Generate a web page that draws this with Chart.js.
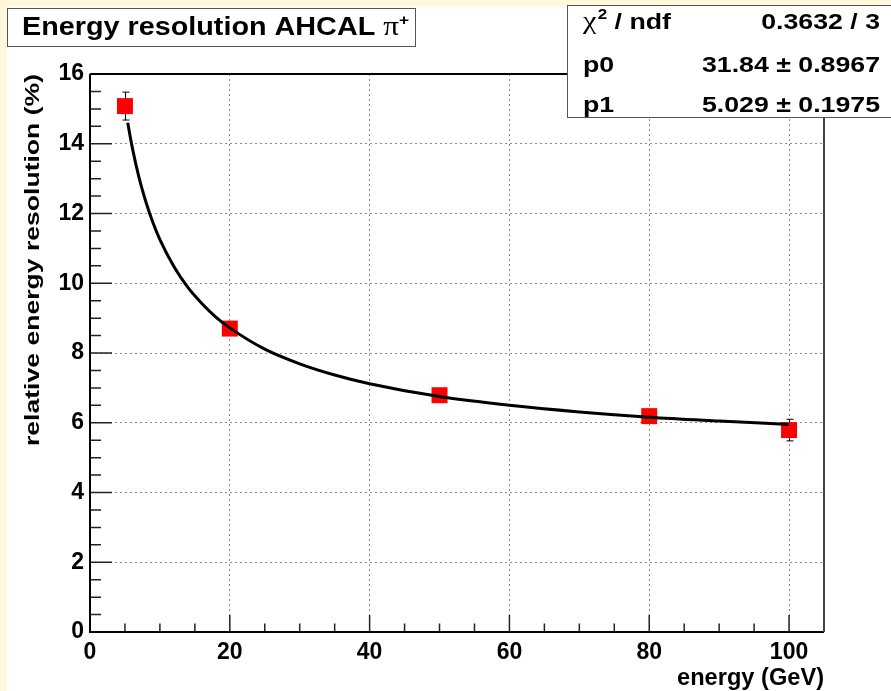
<!DOCTYPE html>
<html lang="en">
<head>
    <meta charset="UTF-8">
    <title>Energy resolution AHCAL</title>
    <script src="https://cdn.jsdelivr.net/npm/chart.js"></script>
    <style>
        body { margin: 0; background: #ffffff; }
        canvas { display: block; }
    </style>
</head>
<body>
    <canvas id="resChart" width="891" height="691"></canvas>

    <script>
        // measured points (energy in GeV, resolution in %)
        const energies = [5, 20, 50, 80, 100];
        const resolution = [15.08, 8.70, 6.79, 6.19, 5.79];
        const resErrors = [0.40, 0.15, 0.12, 0.15, 0.31];

        // fit curve
        const fitE = [5.4, 6, 7, 8, 9, 10, 12, 14, 16, 18, 20, 25, 30, 35, 40, 50, 60, 70, 80, 90, 100];
        const fitRes = [14.60, 13.94, 13.04, 12.33, 11.74, 11.25, 10.48, 9.88, 9.42, 9.03, 8.72,
                        8.11, 7.69, 7.37, 7.12, 6.75, 6.50, 6.31, 6.16, 6.05, 5.95];

        const xTicks = [0, 20, 40, 60, 80, 100];
        const yTicks = [0, 2, 4, 6, 8, 10, 12, 14, 16];

        const titleText = 'Energy resolution AHCAL ';
        const statsRows = [
            ['chi', '0.3632 / 3'],
            ['p0', '31.84 \u00b1 0.8967'],
            ['p1', '5.029 \u00b1 0.1975']
        ];

        const FONT = '"Liberation Sans", Arial, Helvetica, sans-serif';
        const SYM = '"Liberation Serif", "DejaVu Serif", serif';

        // ROOT text is a bit wider than Liberation Sans, so stretch horizontally
        function stretchText(ctx, text, x, y, width, align) {
            const w = ctx.measureText(text).width;
            ctx.save();
            ctx.translate(x, y);
            ctx.scale(width / w, 1);
            ctx.textAlign = align;
            ctx.fillText(text, 0, 0);
            ctx.restore();
        }

        const rootLook = {
            id: 'rootLook',
            beforeDraw(chart) {
                const ctx = chart.ctx;
                ctx.save();
                ctx.fillStyle = '#fff8dc';
                ctx.fillRect(0, 0, chart.width, chart.height);
                ctx.fillStyle = '#ffffff';
                ctx.fillRect(7, 7, chart.width - 7, chart.height - 7);
                ctx.restore();
            },
            beforeDatasetsDraw(chart) {
                // error bars
                const ctx = chart.ctx;
                const xs = chart.scales.x, ys = chart.scales.y;
                ctx.save();
                ctx.strokeStyle = '#000';
                ctx.lineWidth = 1;
                energies.forEach((e, i) => {
                    const px = Math.round(xs.getPixelForValue(e)) + 0.5;
                    const top = ys.getPixelForValue(resolution[i] + resErrors[i]);
                    const bot = ys.getPixelForValue(resolution[i] - resErrors[i]);
                    ctx.beginPath();
                    ctx.moveTo(px, top); ctx.lineTo(px, bot);
                    ctx.moveTo(px - 3, top); ctx.lineTo(px + 4, top);
                    ctx.moveTo(px - 3, bot); ctx.lineTo(px + 4, bot);
                    ctx.stroke();
                });
                ctx.restore();
            },
            afterDatasetsDraw(chart) {
                const ctx = chart.ctx;
                const a = chart.chartArea;
                const xs = chart.scales.x, ys = chart.scales.y;
                ctx.save();
                // inward tick marks
                ctx.strokeStyle = '#222';
                ctx.lineWidth = 1.5;
                ctx.beginPath();
                for (let v = 0; v <= 105; v += 5) {
                    const px = xs.getPixelForValue(v);
                    const len = v % 20 === 0 ? 17 : 8.5;
                    ctx.moveTo(px, a.bottom); ctx.lineTo(px, a.bottom - len);
                }
                for (let v = 0; v <= 16; v += 0.5) {
                    const py = ys.getPixelForValue(v);
                    const len = v % 2 === 0 ? 22 : 11;
                    ctx.moveTo(a.left, py); ctx.lineTo(a.left + len, py);
                }
                ctx.stroke();

                // frame
                ctx.lineWidth = 2;
                ctx.strokeStyle = '#000';
                ctx.beginPath();
                ctx.moveTo(a.left, a.top); ctx.lineTo(a.right, a.top);
                ctx.moveTo(a.left, a.top); ctx.lineTo(a.left, a.bottom); ctx.lineTo(a.right, a.bottom);
                ctx.stroke();
                ctx.strokeStyle = '#444';
                ctx.beginPath();
                ctx.moveTo(a.right, a.top); ctx.lineTo(a.right, a.bottom);
                ctx.stroke();
                ctx.restore();
            },
            afterDraw(chart) {
                const ctx = chart.ctx;
                const a = chart.chartArea;
                ctx.save();
                ctx.textBaseline = 'alphabetic';

                // title box
                ctx.fillStyle = '#fff';
                ctx.fillRect(7.5, 8.5, 408, 38);
                ctx.strokeStyle = '#555';
                ctx.lineWidth = 1;
                ctx.strokeRect(7.5, 8.5, 408, 38);
                ctx.fillStyle = '#000';
                ctx.font = 'bold 25px ' + FONT;
                const w1 = ctx.measureText(titleText).width;
                ctx.font = '27px ' + SYM;
                const w2 = ctx.measureText('\u03c0').width;
                ctx.font = 'bold 15px ' + FONT;
                const w3 = ctx.measureText('+').width;
                const k = (409 - 22) / (w1 + w2 + w3);
                ctx.save();
                ctx.translate(22, 35);
                ctx.scale(k, 1);
                ctx.textAlign = 'left';
                ctx.font = 'bold 25px ' + FONT;
                ctx.fillText(titleText, 0, 0);
                ctx.font = '27px ' + SYM;
                ctx.fillText('\u03c0', w1, 0);
                ctx.font = 'bold 15px ' + FONT;
                ctx.fillText('+', w1 + w2, -10);
                ctx.restore();

                // stats box
                ctx.fillStyle = '#fff';
                ctx.fillRect(567.5, 5.5, 330, 112);
                ctx.strokeStyle = '#555';
                ctx.strokeRect(567.5, 5.5, 330, 112);
                ctx.fillStyle = '#000';
                ctx.font = 'bold 22px ' + FONT;
                const ks = 178 / ctx.measureText(statsRows[1][1]).width;
                const base = [28.5, 71.5, 111.5];
                statsRows.forEach((row, i) => {
                    ctx.save();
                    ctx.translate(583, base[i]);
                    ctx.scale(ks, 1);
                    ctx.textAlign = 'left';
                    if (row[0] === 'chi') {
                        ctx.font = '25px ' + SYM;
                        ctx.fillText('\u03c7', 0, 0);
                        let sx = ctx.measureText('\u03c7').width + 1;
                        ctx.font = 'bold 14px ' + FONT;
                        ctx.fillText('2', sx, -10);
                        sx += ctx.measureText('2').width;
                        ctx.font = 'bold 22px ' + FONT;
                        ctx.fillText(' / ndf', sx, 0);
                    } else {
                        ctx.font = 'bold 22px ' + FONT;
                        ctx.fillText(row[0], 0, 0);
                    }
                    ctx.restore();
                    ctx.save();
                    ctx.translate(880, base[i]);
                    ctx.scale(ks, 1);
                    ctx.font = 'bold 22px ' + FONT;
                    ctx.textAlign = 'right';
                    ctx.fillText(row[1], 0, 0);
                    ctx.restore();
                });

                // axis titles
                ctx.font = 'bold 23px ' + FONT;
                stretchText(ctx, 'energy (GeV)', a.right, 685, 147, 'right');
                ctx.translate(39, a.top);
                ctx.rotate(-Math.PI / 2);
                ctx.font = 'bold 21px ' + FONT;
                stretchText(ctx, 'relative energy resolution (%)', 0, 0, 372, 'right');
                ctx.restore();
            }
        };

        const ctx = document.getElementById('resChart').getContext('2d');
        new Chart(ctx, {
            type: 'scatter',
            data: {
                datasets: [{
                    label: 'fit',
                    data: fitE.map((e, i) => ({ x: e, y: fitRes[i] })),
                    showLine: true,
                    borderColor: '#000',
                    borderWidth: 3,
                    pointRadius: 0,
                    cubicInterpolationMode: 'monotone'
                }, {
                    label: 'data',
                    data: energies.map((e, i) => ({ x: e, y: resolution[i] })),
                    pointStyle: 'rect',
                    pointRadius: 11.3,
                    backgroundColor: '#ff0000',
                    borderWidth: 0
                }]
            },
            options: {
                responsive: false,
                animation: false,
                layout: { padding: { left: 0, top: 74, right: 67, bottom: 0 } },
                plugins: { legend: { display: false }, tooltip: { enabled: false } },
                scales: {
                    x: {
                        type: 'linear',
                        min: 0,
                        max: 105,
                        afterBuildTicks: s => { s.ticks = xTicks.map(v => ({ value: v })); },
                        afterFit: s => { s.height = 59; },
                        grid: { color: '#8a8a8a', lineWidth: 1, drawTicks: false },
                        border: { display: false, dash: [2, 3] },
                        ticks: {
                            padding: 7,
                            color: '#000',
                            font: { family: FONT, size: 23, weight: 'bold' }
                        }
                    },
                    y: {
                        type: 'linear',
                        min: 0,
                        max: 16,
                        afterBuildTicks: s => { s.ticks = yTicks.map(v => ({ value: v })); },
                        afterFit: s => { s.width = 90; },
                        grid: { color: '#8a8a8a', lineWidth: 1, drawTicks: false },
                        border: { display: false, dash: [2, 3] },
                        ticks: {
                            padding: 6,
                            color: '#000',
                            font: { family: FONT, size: 23, weight: 'bold' }
                        }
                    }
                }
            },
            plugins: [rootLook]
        });
    </script>
</body>
</html>
